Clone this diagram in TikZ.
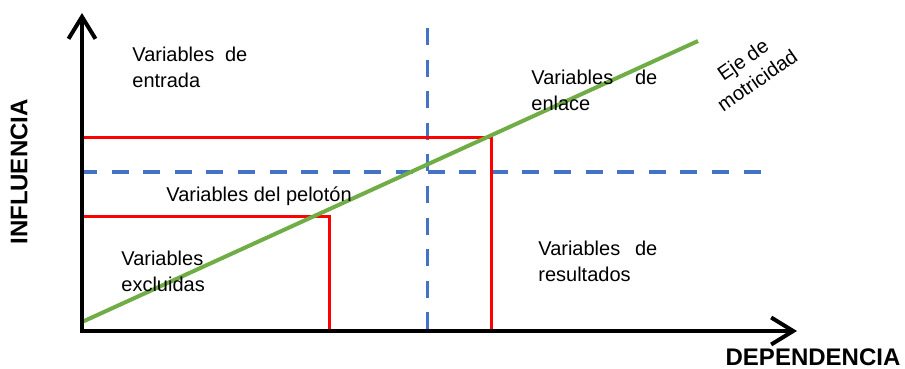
\documentclass[tikz,border=0pt]{standalone}
\usepackage{fontspec}
\setmainfont{Liberation Sans}
\usetikzlibrary{arrows.meta,positioning}
\definecolor{zonered}{HTML}{FF0000}
\definecolor{cutblue}{HTML}{4472C4}
\definecolor{ejegreen}{HTML}{70AD47}
\tikzset{
  axisline/.style={line width=2pt, line join=miter,
                   {Straight Barb[length=11pt,width=13.5pt]}-{Straight Barb[length=11pt,width=13.5pt]}},
  zoneline/.style={zonered, line width=1.5pt},
  cutline/.style={cutblue, line width=1.5pt, dash pattern=on 8.5pt off 7.3pt},
  ejeline/.style={ejegreen, line width=2pt},
  zonetext/.style={inner sep=0pt, align=left, anchor=west,
                   font=\fontsize{10}{13}\selectfont},
  axislabel/.style={inner sep=0pt, font=\fontsize{12}{14}\selectfont\bfseries}
}

\begin{document}
\begin{tikzpicture}[x=0.5pt, y=-0.5pt]
  \useasboundingbox (0,0) rectangle (905,369);

  % ===== Axes =====
  \coordinate (O)    at (82, 331);
  \coordinate (Ytip) at (82, 13);
  \coordinate (Xtip) at (797, 331);

  % ===== Cut lines (blue, dashed) =====
  \coordinate (Hcut-a) at (80, 172);
  \coordinate (Hcut-b) at (765, 172);
  \coordinate (Vcut-a) at (427, 28);
  \coordinate (Vcut-b) at (427, 331);
  \draw[cutline] (Hcut-a) -- (Hcut-b);
  \draw[cutline] (Vcut-a) -- (Vcut-b);

  % ===== Zones (red) =====
  \coordinate (Zout-a) at (82, 138);
  \coordinate (Zout-c) at (491, 138);
  \coordinate (Zout-b) at (491, 331);
  \coordinate (Zin-a)  at (82, 216);
  \coordinate (Zin-c)  at (329, 216);
  \coordinate (Zin-b)  at (329, 331);
  \draw[zoneline] (Zout-a) -- (Zout-c) -- (Zout-b);
  \draw[zoneline] (Zin-a) -- (Zin-c) -- (Zin-b);

  % ===== Eje de motricidad (green) =====
  \coordinate (Eje-a) at (82, 322);
  \coordinate (Eje-b) at (698, 41);
  \draw[ejeline] (Eje-a) -- (Eje-b);

  \draw[axisline] (Ytip) -- (O) -- (Xtip);

  % ===== Zone labels =====
  \node[zonetext] (entrada) at (132, 67)
    {\makebox[57.5pt][s]{Variables de}\\entrada};
  \node[zonetext] (enlace) at (531, 90)
    {\makebox[63pt][s]{Variables de}\\enlace};
  \node[zonetext] (peloton) at (166, 196) {Variables del pelotón};
  \node[zonetext] (excluidas) at (121, 271) {Variables\\excluidas};
  \node[zonetext] (resultados) at (538, 261)
    {\makebox[59.5pt][s]{Variables de}\\resultados};
  \node[zonetext, align=center, anchor=center, rotate=35,
        font=\fontsize{10}{12.5}\selectfont] (eje) at (750, 70)
    {Eje de\\motricidad};

  % ===== Axis labels =====
  \node[axislabel, rotate=90] (influencia) at (19, 172) {INFLUENCIA};
  \node[axislabel] (dependencia) at (813, 357) {DEPENDENCIA};

\end{tikzpicture}
\end{document}
